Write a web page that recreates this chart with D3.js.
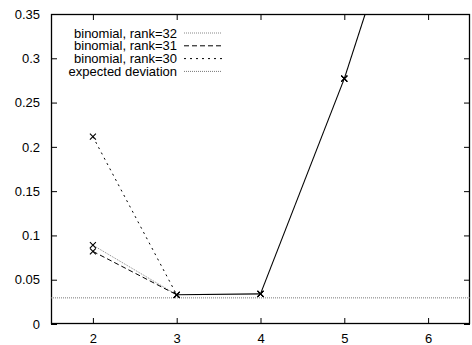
<!DOCTYPE html>
<html>
<head>
<meta charset="utf-8">
<script src="https://cdn.jsdelivr.net/npm/d3@7"></script>
<style>
html,body{margin:0;padding:0;background:#fff;}
svg{display:block;}
text{font-family:"Liberation Sans",Arial,Helvetica,sans-serif;font-size:13px;fill:#000;}
</style>
</head>
<body>
<svg id="chart" width="472" height="345"></svg>
<script>
// Data
const xValues = [2, 3, 4, 5, 6];
const rank32 = [0.089, 0.033, 0.034, 0.277, 0.57];
const rank31 = [0.082, 0.033, 0.034, 0.277, 0.57];
const rank30 = [0.2115, 0.033, 0.034, 0.277, 0.57];
const expectedDeviation = 0.0295;
const xTicks = [2, 3, 4, 5, 6];
const yTicks = [0, 0.05, 0.1, 0.15, 0.2, 0.25, 0.3, 0.35];
const seriesNames = ["binomial, rank=32", "binomial, rank=31", "binomial, rank=30", "expected deviation"];

const W = 472, H = 345;
const m = {left: 51, right: 2, top: 14, bottom: 21};
const svg = d3.select("#chart");
const x = d3.scaleLinear().domain([1.5, 6.5]).range([m.left, W - m.right]);
const y = d3.scaleLinear().domain([0, 0.35]).range([H - m.bottom, m.top]);

svg.append("defs").append("clipPath").attr("id", "clip")
  .append("rect").attr("x", m.left).attr("y", m.top)
  .attr("width", W - m.right - m.left).attr("height", H - m.bottom - m.top);

const tickLen = 6;
const xAxisB = d3.axisBottom(x).tickValues(xTicks).tickFormat(d3.format("d")).tickSizeInner(-tickLen).tickSizeOuter(0).tickPadding(10);
const gxb = svg.append("g").attr("transform", `translate(0,${H - m.bottom})`).call(xAxisB);
const xAxisT = d3.axisTop(x).tickValues(xTicks).tickFormat("").tickSizeInner(-tickLen).tickSizeOuter(0);
const gxt = svg.append("g").attr("transform", `translate(0,${m.top})`).call(xAxisT);
const fmtY = d => d === 0 ? "0" : String(+d.toFixed(2));
const yAxisL = d3.axisLeft(y).tickValues(yTicks).tickFormat(fmtY).tickSizeInner(-tickLen).tickSizeOuter(0).tickPadding(11);
const gyl = svg.append("g").attr("transform", `translate(${m.left},0)`).call(yAxisL);
const yAxisR = d3.axisRight(y).tickValues(yTicks).tickFormat("").tickSizeInner(-tickLen).tickSizeOuter(0);
const gyr = svg.append("g").attr("transform", `translate(${W - m.right},0)`).call(yAxisR);
[gxb, gxt, gyl, gyr].forEach(g => {
  g.select(".domain").remove();
  g.selectAll("line").attr("stroke", "#000").attr("stroke-width", 1);
  g.selectAll("text").attr("font-size", 13).attr("font-family", "Liberation Sans, Arial, sans-serif").attr("fill", "#000");
});
gxb.selectAll("text").attr("dy", "0.71em");

// frame
svg.append("rect").attr("x", m.left + 0.5).attr("y", m.top + 0.5)
  .attr("width", W - m.right - m.left - 1).attr("height", H - m.bottom - m.top - 1)
  .attr("fill", "none").attr("stroke", "#000").attr("stroke-width", 1.3);

const plot = svg.append("g").attr("clip-path", "url(#clip)");

// expected deviation
plot.append("line").attr("x1", m.left).attr("x2", W - m.right)
  .attr("y1", y(expectedDeviation)).attr("y2", y(expectedDeviation))
  .attr("stroke", "#777").attr("stroke-width", 1).attr("stroke-dasharray", "1,1");

const styles = [
  {data: rank32, stroke: "#888", dash: "1,1"},
  {data: rank31, stroke: "#000", dash: "5,3"},
  {data: rank30, stroke: "#000", dash: "2,4"}
];
// segments: where all series coincide, the overlapping lines render as one solid line
const segs = [];
for (let i = 0; i < xValues.length - 1; i++) {
  const same = styles.every(s => s.data[i] === styles[0].data[i] && s.data[i + 1] === styles[0].data[i + 1]);
  segs.push({i, same});
}
const line = d3.line().x(d => x(d[0])).y(d => y(d[1]));
styles.forEach(s => {
  segs.filter(g => !g.same).forEach(g => {
    plot.append("path").datum([[xValues[g.i], s.data[g.i]], [xValues[g.i + 1], s.data[g.i + 1]]]).attr("d", line)
      .attr("fill", "none").attr("stroke", s.stroke).attr("stroke-width", 1)
      .attr("stroke-dasharray", s.dash);
  });
});
segs.filter(g => g.same).forEach(g => {
  const d = styles[0].data;
  plot.append("path").datum([[xValues[g.i], d[g.i]], [xValues[g.i + 1], d[g.i + 1]]]).attr("d", line)
    .attr("fill", "none").attr("stroke", "#000").attr("stroke-width", 1.1);
});
// markers
const ms = 3;
styles.forEach(s => {
  s.data.forEach((v, i) => {
    const cx = x(xValues[i]), cy = y(v);
    plot.append("path").attr("d", `M${cx-ms},${cy-ms}L${cx+ms},${cy+ms}M${cx-ms},${cy+ms}L${cx+ms},${cy-ms}`)
      .attr("stroke", "#000").attr("stroke-width", 1.1).attr("fill", "none");
  });
});

// legend
const legStyles = [
  {stroke: "#888", dash: "1,1"},
  {stroke: "#000", dash: "5,3"},
  {stroke: "#000", dash: "2,4"},
  {stroke: "#777", dash: "1,1"}
];
const leg = svg.append("g");
seriesNames.forEach((name, i) => {
  const ly = 33 + i * 12.8;
  leg.append("text").attr("x", 177).attr("y", ly).attr("dy", "0.35em")
    .attr("text-anchor", "end").text(name);
  leg.append("line").attr("x1", 184).attr("x2", 222).attr("y1", ly).attr("y2", ly)
    .attr("stroke", legStyles[i].stroke).attr("stroke-width", 1)
    .attr("stroke-dasharray", legStyles[i].dash);
});
</script>
</body>
</html>
